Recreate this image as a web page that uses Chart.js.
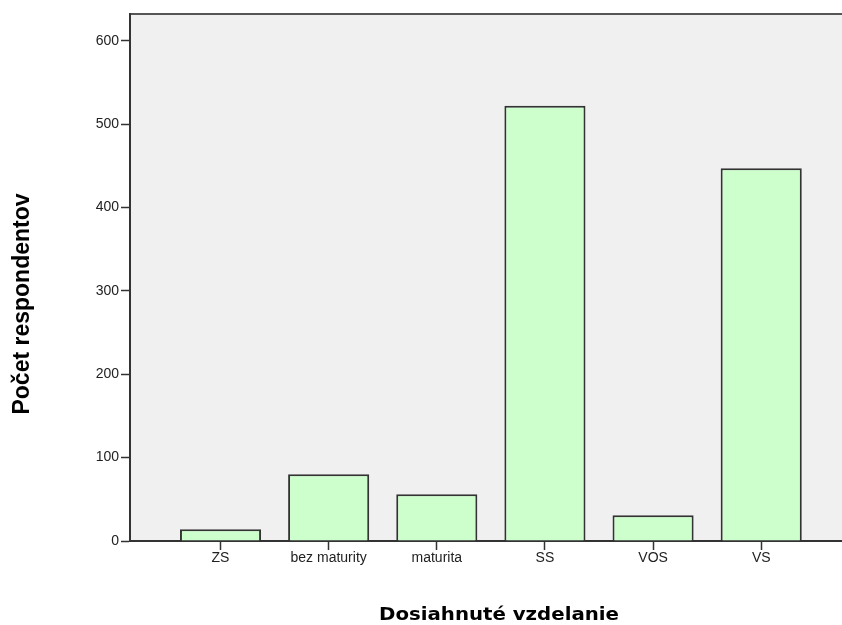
<!DOCTYPE html>
<html>
<head>
<meta charset="utf-8">
<script src="https://cdn.jsdelivr.net/npm/chart.js@4.4.0/dist/chart.umd.min.js"></script>
<style>
  html, body { margin: 0; padding: 0; background: #fff; }
  #wrap { width: 842px; height: 625px; position: relative; }
</style>
</head>
<body>
<div id="wrap"><canvas id="edu_plot_canvas"></canvas></div>
<script>
const categories = ['ZS', 'bez maturity', 'maturita', 'SS', 'VOS', 'VS'];
const counts = [14, 80, 56, 522, 31, 447];
const yTicks = [0, 100, 200, 300, 400, 500, 600];

const xTitle = 'Dosiahnuté vzdelanie';
const yTitle = 'Počet respondentov';

// plot background + top frame line, and axis titles
const framePlugin = {
    id: 'frame',
    beforeDraw(chart) {
        const {ctx, chartArea: a} = chart;
        ctx.save();
        ctx.fillStyle = '#f0f0f0';
        ctx.fillRect(a.left, a.top, a.right - a.left, a.bottom - a.top);
        ctx.strokeStyle = '#555';
        ctx.lineWidth = 2;
        ctx.beginPath();
        ctx.moveTo(a.left, a.top);
        ctx.lineTo(a.right, a.top);
        ctx.stroke();
        ctx.restore();
    },
    afterDraw(chart) {
        const ctx = chart.ctx;
        ctx.save();
        ctx.fillStyle = '#000';
        ctx.textAlign = 'center';
        ctx.textBaseline = 'alphabetic';
        // x title: wide bold face, stretched to the original width
        ctx.font = 'bold 17px "DejaVu Sans"';
        const w = ctx.measureText(xTitle).width;
        ctx.save();
        ctx.translate(499, 620);
        ctx.scale(240 / w, 1);
        ctx.fillText(xTitle, 0, 0);
        ctx.restore();
        ctx.textBaseline = 'middle';
        ctx.translate(23, 304);
        ctx.rotate(-Math.PI / 2);
        ctx.font = 'bold 23px "Liberation Sans", Arial, sans-serif';
        ctx.fillText(yTitle, 0, 0);
        ctx.restore();
    }
};

const eduPlot = document.getElementById('edu_plot_canvas');
const eduChart = new Chart(eduPlot, {
    type: 'bar',
    data: {
        datasets: [{
            data: counts.map((v, i) => ({x: i, y: v})),
            backgroundColor: '#ccffcc',
            borderColor: '#333',
            borderWidth: 2,
            barPercentage: 0.75,
            categoryPercentage: 1
        }]
    },
    options: {
        responsive: true,
        maintainAspectRatio: false,
        animation: false,
        devicePixelRatio: 1,
        layout: {
            padding: {top: 14, right: 0, left: 0, bottom: 0}
        },
        scales: {
            x: {
                type: 'linear',
                offset: false,
                min: -0.837,
                max: 5.747,
                afterFit: function(scale) {
                    scale.height = 84;
                },
                afterBuildTicks: function(scale) {
                    scale.ticks = categories.map((c, i) => ({value: i}));
                },
                grid: {
                    offset: false,
                    drawOnChartArea: false,
                    color: '#333',
                    tickLength: 9,
                    tickWidth: 1.5
                },
                border: {
                    color: '#333',
                    width: 2
                },
                ticks: {
                    padding: 0,
                    color: '#222',
                    font: {family: '"Liberation Sans", Arial, sans-serif', size: 14},
                    maxRotation: 0,
                    autoSkip: false,
                    callback: function(value) {
                        return categories[value];
                    }
                }
            },
            y: {
                min: 0,
                max: 632,
                afterFit: function(scale) {
                    scale.width = 130;
                },
                afterBuildTicks: function(scale) {
                    scale.ticks = yTicks.map(v => ({value: v}));
                },
                grid: {
                    drawOnChartArea: false,
                    color: '#333',
                    tickLength: 9,
                    tickWidth: 1.5
                },
                border: {
                    color: '#333',
                    width: 2
                },
                ticks: {
                    padding: 2,
                    color: '#222',
                    font: {family: '"Liberation Sans", Arial, sans-serif', size: 14}
                }
            }
        },
        plugins: {
            legend: {
                display: false,
            },
            tooltip: {
                enabled: false,
            }
        }
    },
    plugins: [framePlugin]
});
</script>
</body>
</html>
